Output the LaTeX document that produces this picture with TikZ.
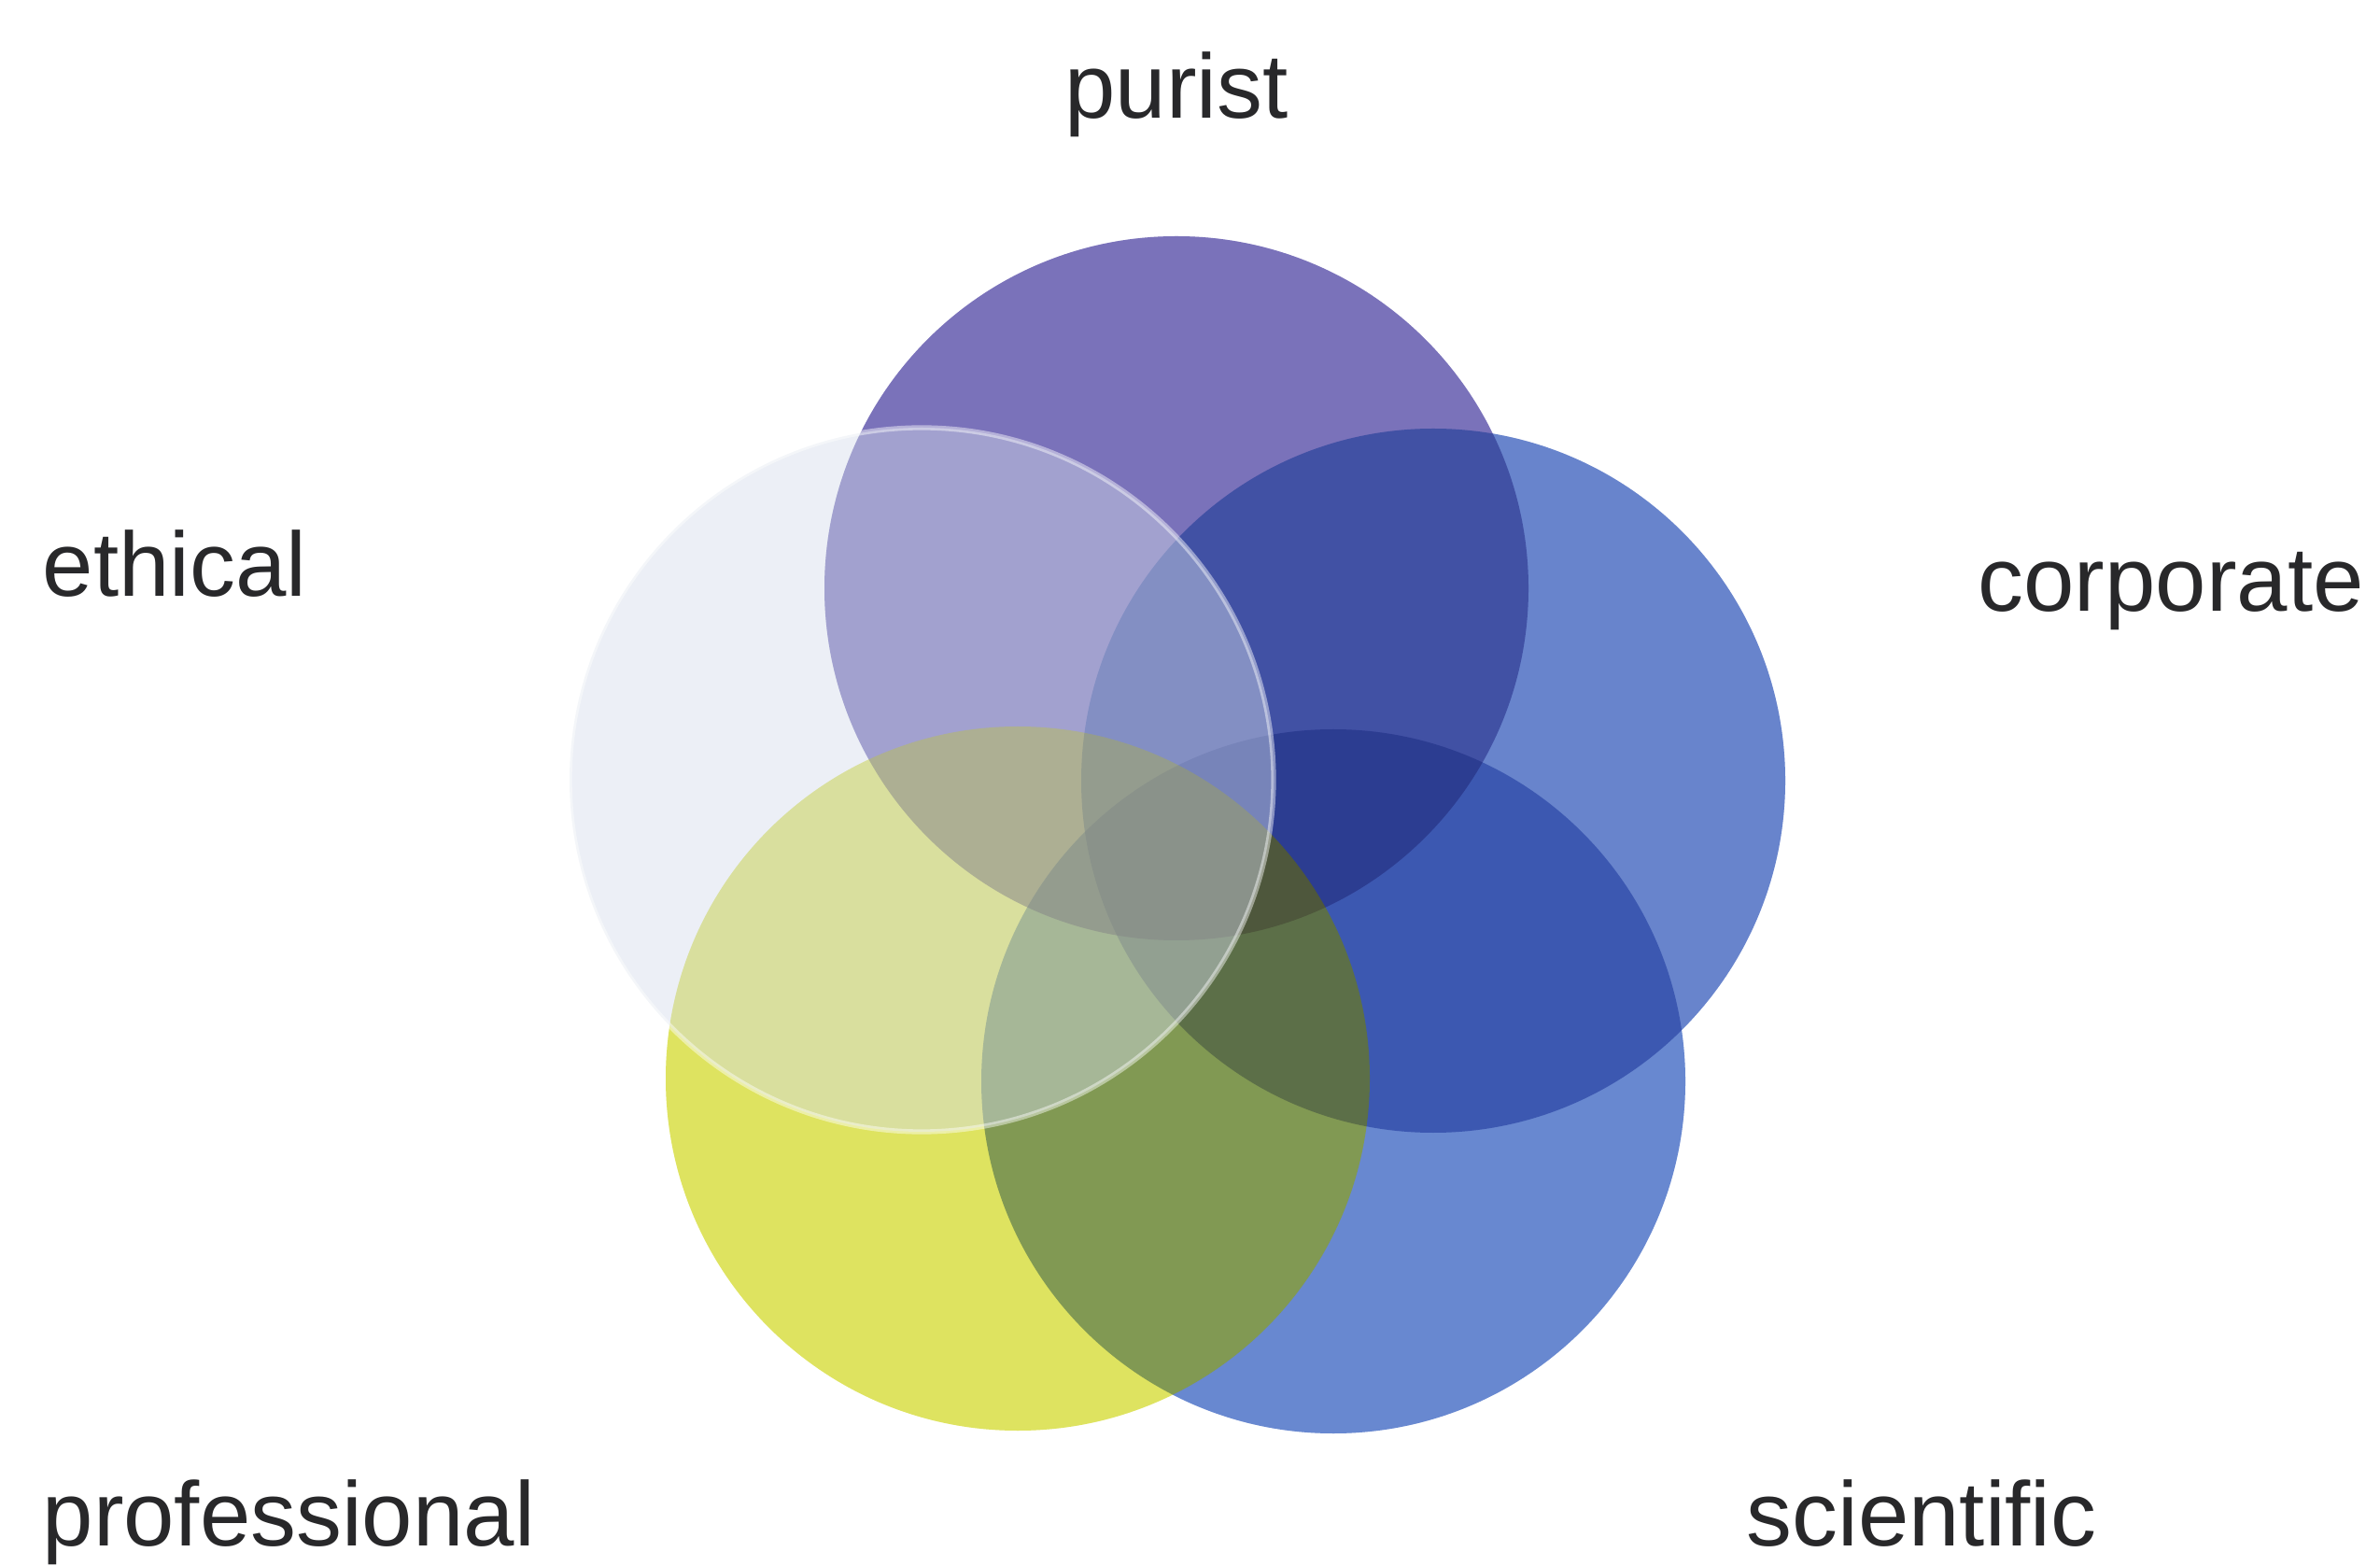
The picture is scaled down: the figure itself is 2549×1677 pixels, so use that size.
\documentclass[tikz,border=0pt]{standalone}
\usepackage{fontspec}
\setmainfont{Liberation Sans}
\definecolor{puristc}{RGB}{122,114,186}
\definecolor{corpc}{RGB}{104,132,204}
\definecolor{scic}{RGB}{104,136,208}
\definecolor{profc}{RGB}{222,227,96}
\definecolor{ethc}{RGB}{212,220,234}
\definecolor{labelc}{RGB}{40,40,42}
\begin{document}
\begin{tikzpicture}[x=0.01cm,y=-0.01cm,
  lbl/.style={font=\fontsize{27.8}{33}\selectfont, text=labelc, inner sep=0pt}]
\useasboundingbox (0,0) rectangle (2549,1677);
\coordinate (purist) at (1260,630);
\coordinate (corporate) at (1535,836);
\coordinate (scientific) at (1428,1158);
\coordinate (professional) at (1090,1155);
\coordinate (ethical) at (987,835);
\def\rad{377}
% multiplied layer
\begin{scope}[blend group=multiply]
  \fill[puristc] (purist) circle (\rad);
  \fill[scic] (scientific) circle (\rad);
  \fill[corpc] (corporate) circle (\rad);
  \fill[profc] (professional) circle (\rad);
\end{scope}
% normal stacked layer, mixed in lightly
\begin{scope}[transparency group, opacity=0.3]
  \fill[puristc] (purist) circle (\rad);
  \fill[scic] (scientific) circle (\rad);
  \fill[corpc] (corporate) circle (\rad);
  \fill[profc] (professional) circle (\rad);
\end{scope}
% pale ethical circle on top
\fill[ethc, fill opacity=0.45] (ethical) circle (\rad);
\draw[white, opacity=0.45, line width=1.5pt] (ethical) circle (\rad);
\node[lbl, anchor=base] (tpurist) at (1260,127) {purist};
\node[lbl, anchor=base west] (tethical) at (45,639) {ethical};
\node[lbl, anchor=base west] (tcorporate) at (2118,655) {corporate};
\node[lbl, anchor=base west] (tprofessional) at (45,1655) {professional};
\node[lbl, anchor=base west] (tscientific) at (1870,1655) {scientific};
\end{tikzpicture}
\end{document}
